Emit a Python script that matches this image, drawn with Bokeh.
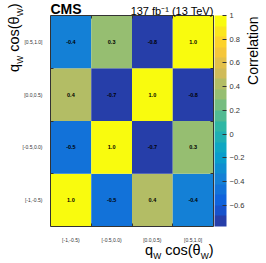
from math import pi
from bokeh.plotting import figure
from bokeh.models import (ColumnDataSource, LinearColorMapper, ColorBar, FixedTicker,
                          Label, CustomJSTickFormatter, Range1d, LinearAxis)
from bokeh.core.properties import value
from bokeh.embed import file_html
from bokeh.resources import INLINE

# ---------------- data ----------------
x_bins = ["[-1,-0.5)", "[-0.5,0.0)", "[0.0,0.5)", "[0.5,1.0]"]
y_bins = ["[-1,-0.5)", "[-0.5,0.0)", "[0.0,0.5)", "[0.5,1.0]"]
row_m1 = [1.0, -0.5, 0.4, -0.4]      # y = [-1,-0.5)
row_m05 = [-0.5, 1.0, -0.7, 0.3]     # y = [-0.5,0.0)
row_0 = [0.4, -0.7, 1.0, -0.8]       # y = [0.0,0.5)
row_05 = [-0.4, 0.3, -0.8, 1.0]      # y = [0.5,1.0]
rows = [row_m1, row_m05, row_0, row_05]
z_min, z_max = -0.78, 1.0
cbar_ticks = [-0.6, -0.4, -0.2, 0.0, 0.2, 0.4, 0.6, 0.8, 1.0]

FONT = "Liberation Sans"

# ROOT kBird palette, 20 contours
stops_r = [0.2082, 0.0592, 0.0780, 0.0232, 0.1802, 0.5301, 0.8186, 0.9956, 0.9764]
stops_g = [0.1664, 0.3599, 0.5041, 0.6419, 0.7178, 0.7492, 0.7328, 0.7862, 0.9832]
stops_b = [0.5293, 0.8684, 0.8385, 0.7914, 0.6425, 0.4662, 0.3499, 0.1968, 0.0539]


def bird(t):
    t = min(max(t, 0.0), 1.0)
    s = t * 8
    i = min(int(s), 7)
    f = s - i
    r = stops_r[i] + f * (stops_r[i + 1] - stops_r[i])
    g = stops_g[i] + f * (stops_g[i + 1] - stops_g[i])
    b = stops_b[i] + f * (stops_b[i + 1] - stops_b[i])
    return "#%02x%02x%02x" % (int(r * 255 + 0.5), int(g * 255 + 0.5), int(b * 255 + 0.5))


ncont = 20
palette = [bird((k + 0.99) / ncont) for k in range(ncont)]
mapper = LinearColorMapper(palette=palette, low=z_min, high=z_max)

nx, ny = len(x_bins), len(y_bins)
xs, ys, vs, ts = [], [], [], []
for j, row in enumerate(rows):
    for i, v in enumerate(row):
        xs.append(i + 0.5)
        ys.append(j + 0.5)
        vs.append(v)
        ts.append(f"{v:.1f}")
src = ColumnDataSource(dict(x=xs, y=ys, v=vs, t=ts))

# ---------------- layout (pixels) ----------------
W, H = 266, 263
FL, FR, FT, FB = 50, 213, 15, 226  # matrix edges in figure px
ux = (FR - FL) / nx
uy = (FB - FT) / ny
x_range = Range1d(-FL / ux, nx + (W - FR) / ux)
y_range = Range1d(-(H - FB) / uy, ny + FT / uy)

p = figure(width=W, height=H, x_range=x_range, y_range=y_range,
           output_backend="svg", toolbar_location=None, min_border=0,
           x_axis_location=None, y_axis_location=None)
p.background_fill_color = "white"
p.border_fill_color = "white"
p.outline_line_color = None
p.grid.visible = False

p.rect(x="x", y="y", width=1, height=1, source=src,
       fill_color={"field": "v", "transform": mapper}, line_color=None)
p.text(x="x", y="y", text="t", source=src, text_font=value(FONT),
       text_font_size="5.5px", text_font_style="bold", text_align="center",
       text_baseline="middle", text_color="black")

centers = [i + 0.5 for i in range(nx)]
edges = list(range(1, nx))


def frame_axis(side, loc, labels):
    ax = LinearAxis(fixed_location=loc, bounds=(0, nx),
                    ticker=FixedTicker(ticks=centers if labels else [], minor_ticks=edges))
    if labels:
        ax.major_label_overrides = {c: l for c, l in zip(centers, labels)}
    ax.major_tick_line_color = None
    ax.minor_tick_in = 3
    ax.minor_tick_out = 0
    ax.minor_tick_line_color = "#333333"
    ax.axis_line_color = "#333333"
    ax.major_label_text_font = FONT
    ax.major_label_text_font_size = "5px" if labels else "0px"
    ax.major_label_text_color = "#333333"
    p.add_layout(ax, side)
    return ax


bx = frame_axis("below", 0, x_bins)
bx.major_label_standoff = 4
ly = frame_axis("left", 0, y_bins)
ly.major_label_standoff = 2
frame_axis("above", ny, None)
frame_axis("right", nx, None)

cb = ColorBar(color_mapper=mapper, width=12, height=FB - FT, margin=0, padding=0,
              location=(FR + 1, H - FB),
              ticker=FixedTicker(ticks=cbar_ticks),
              formatter=CustomJSTickFormatter(code="""
                  if (Math.abs(tick) < 1e-9) return '0';
                  if (Math.abs(tick - 1) < 1e-9) return '1';
                  return tick.toFixed(1).replace('-', '\u2212');"""),
              major_label_text_font=FONT, major_label_text_font_size="7.5px",
              major_label_text_color="#333333",
              major_tick_line_color="#333333", major_tick_in=4, major_tick_out=0,
              label_standoff=3, background_fill_color=None,
              border_line_color=None, bar_line_color=None)
p.add_layout(cb)

BASE_FIX = 0.3  # baseline correction, fraction of font size


def lab(fx, fy, text, size, angle=0.0, style="normal", align="left"):
    if angle == 0.0:
        fy -= BASE_FIX * size
    else:
        fx -= BASE_FIX * size
    p.add_layout(Label(x=0, y=0, x_units="data", y_units="data",
                       x_offset=fx - FL, y_offset=FB - fy, text=text,
                       text_font=FONT, text_font_size=f"{size}px",
                       text_font_style=style, text_align=align,
                       text_baseline="alphabetic", angle=angle,
                       text_color="black"))


lab(FL, 13, "CMS", 14, style="bold")
lab(FR, 13.5, "137 fb\u207b\u00b9 (13 TeV)", 11, align="right")
lab(257, FT + 1, "Correlation", 14, angle=pi / 2, align="right")

# composite axis titles q_W cos(theta_W)
cw = {"q": 0.556, "W": 0.944, " ": 0.278, "c": 0.5, "o": 0.556, "s": 0.5,
      "(": 0.333, ")": 0.333, "\u03b8": 0.556}
parts = [("q", False), ("W", True), (" cos(\u03b8", False), ("W", True), (")", False)]
MAIN, SUB, DROP = 14.5, 8.5, 4


def width(t, s):
    return sum(cw[c] for c in t) * (SUB if s else MAIN)


def title_len():
    return sum(width(t, s) for t, s in parts)


def composite(x0, y0, vertical):
    d = 0.0
    for t, s in parts:
        size = SUB if s else MAIN
        stripped = t.lstrip(" ")
        d += width(t[: len(t) - len(stripped)], s)
        if vertical:
            lab(x0 + (DROP if s else 0), y0 - d, stripped, size, angle=pi / 2)
        else:
            lab(x0 + d, y0 + (DROP if s else 0), stripped, size)
        d += width(stripped, s)


L = title_len()
composite(FR - L, 254, False)
composite(18, 3 + L, True)

open("out.html", "w").write(file_html(p, INLINE))
